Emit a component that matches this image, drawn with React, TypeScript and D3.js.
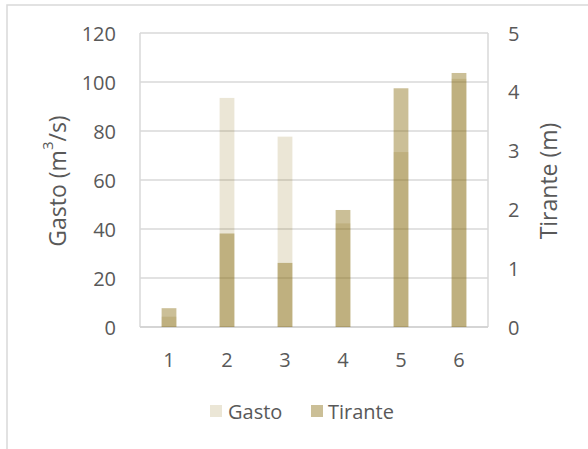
import React from "react";
import * as d3 from "d3";

const categories = ["1", "2", "3", "4", "5", "6"];
const gasto = [4.2, 93.5, 77.7, 42.3, 71.4, 101.3];
const tirante = [0.32, 1.59, 1.09, 1.99, 4.06, 4.32];
const leftTicks = [0, 20, 40, 60, 80, 100, 120];
const rightTicks = [0, 1, 2, 3, 4, 5];
const seriesNames = ["Gasto", "Tirante"];

const W = 588;
const H = 449;
const plot = { left: 140, right: 488, top: 33, bottom: 327 };
const baseColor = "rgb(131,103,7)";
const gastoOpacity = 0.165;
const tiranteOpacity = 0.42;
const font = "'Open Sans', sans-serif";
const textColor = "#595959";

export default function App() {
  const x = d3.scaleBand<string>().domain(categories).range([plot.left, plot.right]).padding(0);
  const yL = d3.scaleLinear().domain([0, 120]).range([plot.bottom, plot.top]);
  const yR = d3.scaleLinear().domain([0, 5]).range([plot.bottom, plot.top]);
  const bw = x.bandwidth() * 0.255;
  const cx = (c: string) => (x(c) as number) + x.bandwidth() / 2;

  return (
    <svg width={W} height={H} style={{ position: "absolute", left: 0, top: 0, background: "#fff" }}>
      <rect x={7} y={5} width={W} height={H} fill="#fff" stroke="#D9D9D9" strokeWidth={1.5} />
      {leftTicks.map((t) => (
        <line key={"g" + t} x1={plot.left} x2={plot.right} y1={yL(t)} y2={yL(t)} stroke="#D9D9D9" strokeWidth={1.5} />
      ))}
      <line x1={plot.left} x2={plot.left} y1={plot.top} y2={plot.bottom} stroke="#D9D9D9" strokeWidth={1.5} />
      <line x1={plot.right} x2={plot.right} y1={plot.top} y2={plot.bottom} stroke="#D9D9D9" strokeWidth={1.5} />
      <line x1={plot.left} x2={plot.right} y1={plot.bottom} y2={plot.bottom} stroke="#D0D0D0" strokeWidth={1.5} />
      {categories.map((c, i) => (
        <rect key={"ga" + c} x={cx(c) - bw / 2} y={yL(gasto[i])} width={bw} height={plot.bottom - yL(gasto[i])} fill={baseColor} fillOpacity={gastoOpacity} />
      ))}
      {categories.map((c, i) => (
        <rect key={"ti" + c} x={cx(c) - bw / 2} y={yR(tirante[i])} width={bw} height={plot.bottom - yR(tirante[i])} fill={baseColor} fillOpacity={tiranteOpacity} />
      ))}
      {leftTicks.map((t) => (
        <text key={"l" + t} x={116} y={yL(t)} textAnchor="end" dominantBaseline="central" fontFamily={font} fontSize={20} fill={textColor}>
          {t}
        </text>
      ))}
      {rightTicks.map((t) => (
        <text key={"r" + t} x={508} y={yR(t)} textAnchor="start" dominantBaseline="central" fontFamily={font} fontSize={20} fill={textColor}>
          {t}
        </text>
      ))}
      {categories.map((c) => (
        <text key={"x" + c} x={cx(c)} y={359} textAnchor="middle" dominantBaseline="central" fontFamily={font} fontSize={20} fill={textColor}>
          {c}
        </text>
      ))}
      <text transform={`translate(57,${(plot.top + plot.bottom) / 2 + 1}) rotate(-90)`} textAnchor="middle" dominantBaseline="central" fontFamily={font} fontSize={23} fill={textColor}>
        Gasto (m<tspan baselineShift="super" fontSize={15}>3</tspan>/s)
      </text>
      <text transform={`translate(548,${(plot.top + plot.bottom) / 2 + 1}) rotate(-90)`} textAnchor="middle" dominantBaseline="central" fontFamily={font} fontSize={23} fill={textColor}>
        Tirante (m)
      </text>
      <rect x={210} y={405} width={12} height={12} fill={baseColor} fillOpacity={gastoOpacity} />
      <text x={228} y={411} dominantBaseline="central" fontFamily={font} fontSize={20} fill={textColor}>
        {seriesNames[0]}
      </text>
      <rect x={311} y={405} width={12} height={12} fill={baseColor} fillOpacity={tiranteOpacity} />
      <text x={328} y={411} dominantBaseline="central" fontFamily={font} fontSize={20} fill={textColor}>
        {seriesNames[1]}
      </text>
    </svg>
  );
}
